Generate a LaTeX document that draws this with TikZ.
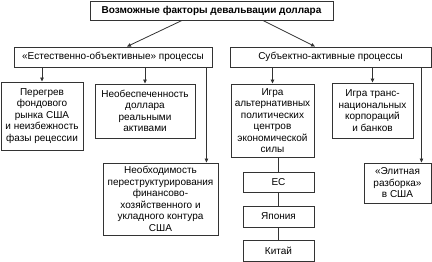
\documentclass[tikz,border=0pt]{standalone}
\usepackage{fontspec}
\setmainfont{Liberation Sans}
\usepackage{tikz}
\usetikzlibrary{arrows.meta}

\begin{document}
\begin{tikzpicture}[
  x=1pt, y=-1pt,
  box/.style={draw=black!80, line width=0.9pt, fill=white, align=center, inner sep=1pt,
              font=\fontsize{10}{11.5}\selectfont},
  head/.style={box, font=\fontsize{10}{11.5}\selectfont\bfseries},
  fl/.style={-{Triangle[length=4pt,width=3.5pt]}, draw=black!80, line width=0.8pt},
  ln/.style={draw=black!80, line width=0.8pt},
]
\useasboundingbox (0,0) rectangle (432,262);

\def\rA{10.5}  % title
\def\rB{57}    % two kinds of processes

% ============ title and the two groups ======================================
\node[head, minimum width=243, minimum height=19] (top) at (211.5,\rA)
  {Возможные факторы девальвации доллара};
\node[box, minimum width=198, minimum height=20] (lft) at (113,\rB)
  {«Естественно-объективные» процессы};
\node[box, minimum width=201, minimum height=20] (rgt) at (330.5,\rB)
  {Субъектно-активные процессы};

% ============ left group ====================================================
\node[box, minimum width=82, minimum height=68] (overheat) at (42,116)
  {Перегрев\\фондового\\рынка США\\и неизбежность\\фазы рецессии};
\node[box, minimum width=100, minimum height=54] (nocover) at (145,111)
  {Необеспеченность\\доллара\\реальными\\активами};
\node[box, minimum width=115, minimum height=72] (restruct) at (160.5,199)
  {Необходимость\\переструктурирования\\финансово-\\хозяйственного и\\укладного контура\\США};

% ============ right group ===================================================
\node[box, minimum width=83, minimum height=73] (game) at (272.5,120.5)
  {Игра\\альтернативных\\политических\\центров\\экономической\\силы};
\node[box, minimum width=81, minimum height=55] (tnc) at (372.5,110.5)
  {Игра транс-\\национальных\\корпораций\\и банков};
\node[box, minimum width=67, minimum height=40] (elite) at (397.5,183)
  {«Элитная\\разборка»\\в США};

\node[box, minimum width=71, minimum height=20] (eu)    at (278.5,182)   {ЕС};
\node[box, minimum width=71, minimum height=21] (japan) at (278.5,216.5) {Япония};
\node[box, minimum width=71, minimum height=21] (china) at (278.5,250.5) {Китай};

% ============ flows =========================================================
\draw[fl] ([xshift=-29.5]top.south) -- ([xshift=14]lft.north);
\draw[fl] ([xshift=51.5]top.south)  -- ([xshift=-15.5]rgt.north);

\draw[fl] (lft.south -| overheat.north) -- (overheat.north);
\draw[fl] (lft.south -| nocover.north)  -- (nocover.north);
\draw[fl] ([xshift=-6]lft.south east) -- ([xshift=-6]lft.south east |- restruct.north);

\draw[fl] (rgt.south -| game.north) -- (game.north);
\draw[fl] (rgt.south -| tnc.north)  -- (tnc.north);
\draw[fl] ([xshift=-10]rgt.south east) -- ([xshift=-10]rgt.south east |- elite.north);

\draw[ln] (eu.north |- game.south) -- (eu.north);
\draw[ln] (eu)    -- (japan);
\draw[ln] (japan) -- (china);

\end{tikzpicture}
\end{document}
